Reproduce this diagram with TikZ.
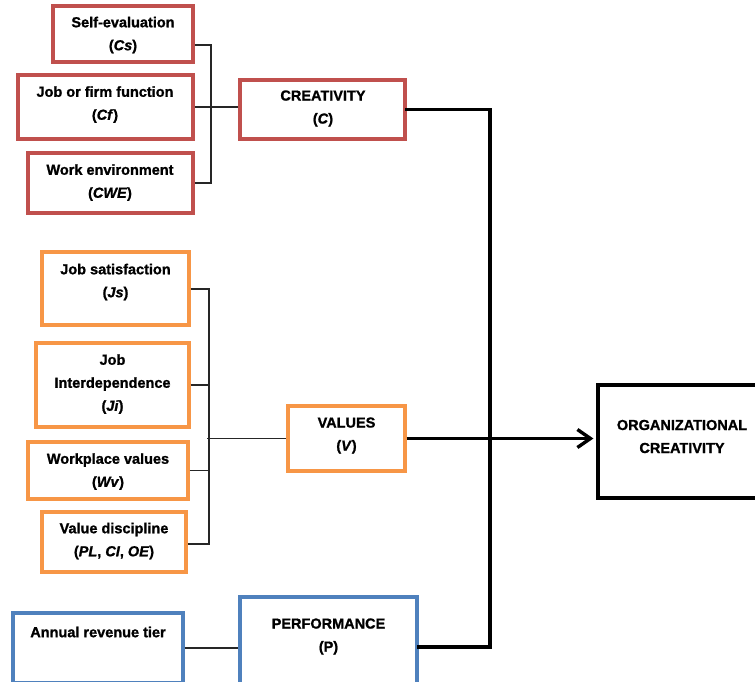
\documentclass[tikz,border=0pt]{standalone}
\usepackage{fontspec}
\setmainfont{Liberation Sans}[BoldFeatures={FakeBold=1.2},BoldItalicFeatures={FakeBold=1.2}]
\usetikzlibrary{arrows.meta}
\definecolor{cred}{HTML}{C0504D}
\definecolor{corange}{HTML}{F79646}
\definecolor{cblue}{HTML}{4F81BD}
\tikzset{
  box/.style={draw, rectangle, line width=3.2pt, inner sep=0pt, fill=white},
  rbox/.style={box, draw=cred},
  obox/.style={box, draw=corange},
  bbox/.style={box, draw=cblue},
  kbox/.style={box, draw=black},
  txt/.style={align=center, inner sep=0pt, font=\fontsize{14.5}{23}\selectfont\bfseries},
  thinln/.style={line width=1.2pt, draw=black!85},
  thickln/.style={line width=3.6pt, draw=black, line join=miter, line cap=rect},
}
\begin{document}
\begin{tikzpicture}[x=1pt, y=-1pt]
\useasboundingbox (0,0) rectangle (755,681);
% creativity group
\node[rbox, minimum width=140pt, minimum height=56pt] (se) at (123,34) {};
\node[rbox, minimum width=175pt, minimum height=64pt] (jf) at (105.5,107) {};
\node[rbox, minimum width=165pt, minimum height=60pt] (we) at (110.5,183) {};
\node[rbox, minimum width=165pt, minimum height=59pt] (cre) at (322.5,109.5) {};
\node[txt] (se-t) at (123,35) {Self-evaluation\\(\textit{Cs})};
\node[txt] (jf-t) at (105,104.5) {Job or firm function\\(\textit{Cf})};
\node[txt] (we-t) at (110,182.5) {Work environment\\(\textit{CWE})};
\node[txt] (cre-t) at (323,108.5) {CREATIVITY\\(\textit{C})};
% values group
\node[obox, minimum width=147pt, minimum height=73pt] (js) at (115.5,288.5) {};
\node[obox, minimum width=153pt, minimum height=84pt] (ji) at (112.5,385) {};
\node[obox, minimum width=160pt, minimum height=57pt] (wv) at (108,470.5) {};
\node[obox, minimum width=144pt, minimum height=60pt] (vd) at (114,542) {};
\node[obox, minimum width=117pt, minimum height=65pt] (val) at (346.5,438.5) {};
\node[txt] (js-t) at (115.5,282) {Job satisfaction\\(\textit{Js})};
\node[txt] (ji-t) at (112.5,384) {Job\\Interdependence\\(\textit{Ji})};
\node[txt] (wv-t) at (108,471.5) {Workplace values\\(\textit{Wv})};
\node[txt] (vd-t) at (114,541) {Value discipline\\(\textit{PL}, \textit{CI}, \textit{OE})};
\node[txt] (val-t) at (346.5,435.5) {VALUES\\(\textit{V})};
% performance group
\node[bbox, minimum width=170pt, minimum height=70pt] (ar) at (98,648) {};
\node[bbox, minimum width=177pt, minimum height=100pt] (perf) at (328.5,647) {};
\node[txt] (ar-t) at (98,632) {Annual revenue tier};
\node[txt] (perf-t) at (328.5,636.5) {PERFORMANCE\\(P)};
% outcome
\node[kbox, minimum width=159pt, minimum height=113pt] (org) at (677.5,441.5) {};
\node[txt] (org-t) at (682,436.5) {ORGANIZATIONAL\\CREATIVITY};
% thin connectors
\coordinate (cbt) at (211,45);
\coordinate (cbb) at (211,183);
\draw[thinln] (se.east |- cbt) -- (cbt) -- (cbb) -- (we.east |- cbb);
\draw[thinln] (jf.east) -- (cre.west |- jf.east);
\coordinate (vbt) at (209,289);
\coordinate (vbb) at (209,544);
\draw[thinln] (js.east |- vbt) -- (vbt) -- (vbb) -- (vd.east |- vbb);
\draw[thinln] (ji.east) -- (ji.east -| vbt);
\draw[thinln] (wv.east) -- (wv.east -| vbt);
\draw[thinln] ([xshift=-2pt]vbt |- val.west) -- (val.west);
\draw[thinln] (ar.east) -- (perf.west |- ar.east);
% thick connectors
\coordinate (bus) at (490,0);
\draw[thickln] (cre.east) -- (cre.east -| bus) -- (perf.east -| bus) -- (perf.east);
\draw[thickln, line cap=butt, shorten >=3pt, -{Straight Barb[length=13pt,width=18pt,line width=3.4pt]}] (val.east) -- (val.east -| org.west);
\end{tikzpicture}
\end{document}
